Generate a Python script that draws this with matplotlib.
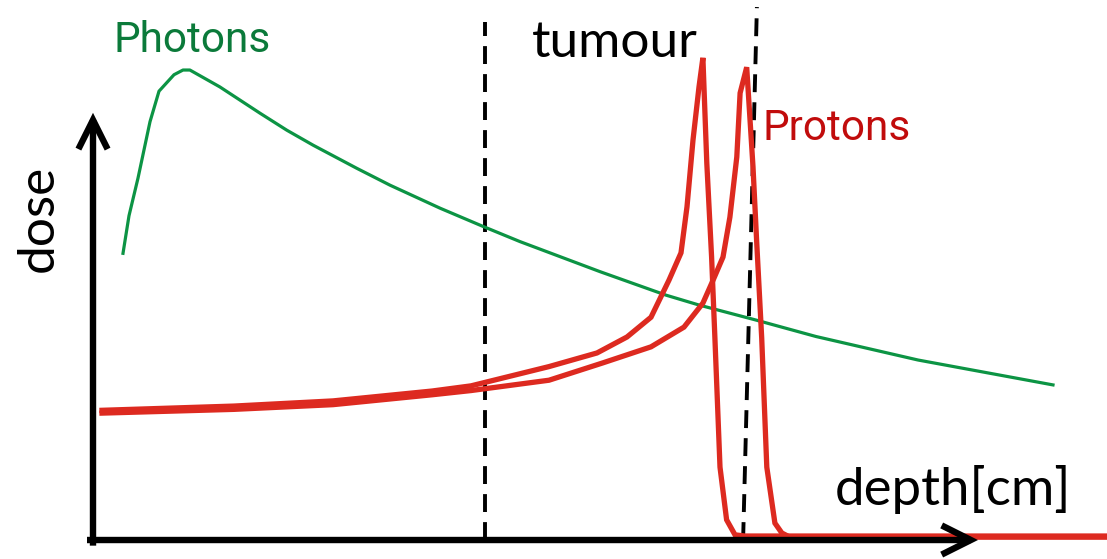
import matplotlib
matplotlib.use("Agg")
import matplotlib.pyplot as plt

# ---- data (depth in cm, relative dose) ----
photon_depth = [1.0, 1.2, 1.5, 1.7, 1.9, 2.2, 2.7, 3.0, 3.23, 4.23, 5.57, 6.46, 7.34,
                8.79, 9.9, 11.57, 13.01, 14.23, 16.9, 19.1, 20.2, 22.1, 24.1, 27.5, 32.0]
photon_dose = [61, 69, 77, 83, 89, 95.5, 99, 100, 100, 96.4, 90.8, 87.2, 84.0,
               79.1, 75.5, 70.6, 66.7, 63.5, 57.1, 52.1, 50, 46.8, 43.3, 38.3, 33]

proton1_depth = [0.3, 4.7, 8.0, 11.3, 12.6, 15.2, 16.8, 17.8, 18.6, 19.2, 19.6, 19.8,
                 20.0, 20.2, 20.33, 20.46, 20.62, 20.73, 20.9, 21.12, 21.4, 21.73, 34.0]
proton1_dose = [27.6, 28.5, 29.6, 31.7, 32.8, 36.9, 39.8, 43.2, 47.4, 55.3, 61.1, 70.9,
                85.1, 96.4, 102.6, 80.2, 60.2, 43.0, 15.5, 4.3, 1.1, 0.85, 0.85]

proton2_depth = [0.3, 4.7, 8.0, 11.3, 12.6, 15.2, 17.0, 18.6, 19.7, 20.33, 20.67, 21.0,
                 21.23, 21.46, 21.57, 21.79, 22.0, 22.12, 22.29, 22.46, 22.73, 22.96,
                 23.23, 34.0]
proton2_dose = [27.0, 27.8, 28.8, 30.9, 31.8, 34.0, 37.7, 41.1, 45.3, 50.4, 55.3, 60.2,
                68.7, 81.5, 95.1, 100.6, 79.4, 63.8, 43.0, 15.5, 3.6, 1.5, 0.6, 0.6]

tumour_start = [13.07, 13.07]
tumour_start_dose = [0, 110.2]
tumour_end = [21.67, 22.13]
tumour_end_dose = [0, 113.4]

labels = {"photons": "Photons", "protons": "Protons", "tumour": "tumour",
          "x": "depth[cm]", "y": "dose"}

# ---- styling ----
green_line = "#0C9444"
green_text = "#0B7A3A"
red_line = "#DD2A20"
red_text = "#C10C0C"

fig = plt.figure(figsize=(11.07, 5.59), dpi=100)
ax = fig.add_axes([0, 0, 1, 1])
ax.set_xlim(-3.1, 33.8)
ax.set_ylim(-4.04, 114.9)
ax.axis("off")

# axes arrows
arrow_kw = dict(arrowstyle="->,head_length=2.1,head_width=1.05", lw=4.6,
                color="black", shrinkA=0, shrinkB=0, joinstyle="miter",
                capstyle="butt")
ax.annotate("", xy=(0, 90.9), xytext=(0, -1.2), arrowprops=arrow_kw)
ax.annotate("", xy=(29.5, 0), xytext=(-0.2, 0), arrowprops=arrow_kw)

# dashed tumour boundaries
dash = (4.6, 2.6)
ax.plot(tumour_start, tumour_start_dose, color="black", lw=2.8, dashes=dash)
ax.plot(tumour_end, tumour_end_dose, color="black", lw=2.8, dashes=dash)

# curves
ax.plot(photon_depth, photon_dose, color=green_line, lw=2.3, solid_joinstyle="round")
ax.plot(proton1_depth, proton1_dose, color=red_line, lw=3.8, solid_joinstyle="miter")
ax.plot(proton2_depth, proton2_dose, color=red_line, lw=3.8, solid_joinstyle="miter")

# texts
ax.text(0.67, 103.8, labels["photons"], color=green_text, fontsize=30.5,
        family="Roboto", ha="left", va="baseline")
ax.text(22.33, 85.1, labels["protons"], color=red_text, fontsize=30.5,
        family="Roboto", ha="left", va="baseline")
ax.text(14.63, 102.8, labels["tumour"], color="black", fontsize=37,
        family="Lato", ha="left", va="baseline")
ax.text(24.73, 7.45, labels["x"], color="black", fontsize=38,
        family="Lato", ha="left", va="baseline")
ax.text(-1.8, 68.5, labels["y"], color="black", fontsize=37, family="Lato",
        rotation=90, ha="center", va="center")

fig.savefig("out.png", dpi=100)
